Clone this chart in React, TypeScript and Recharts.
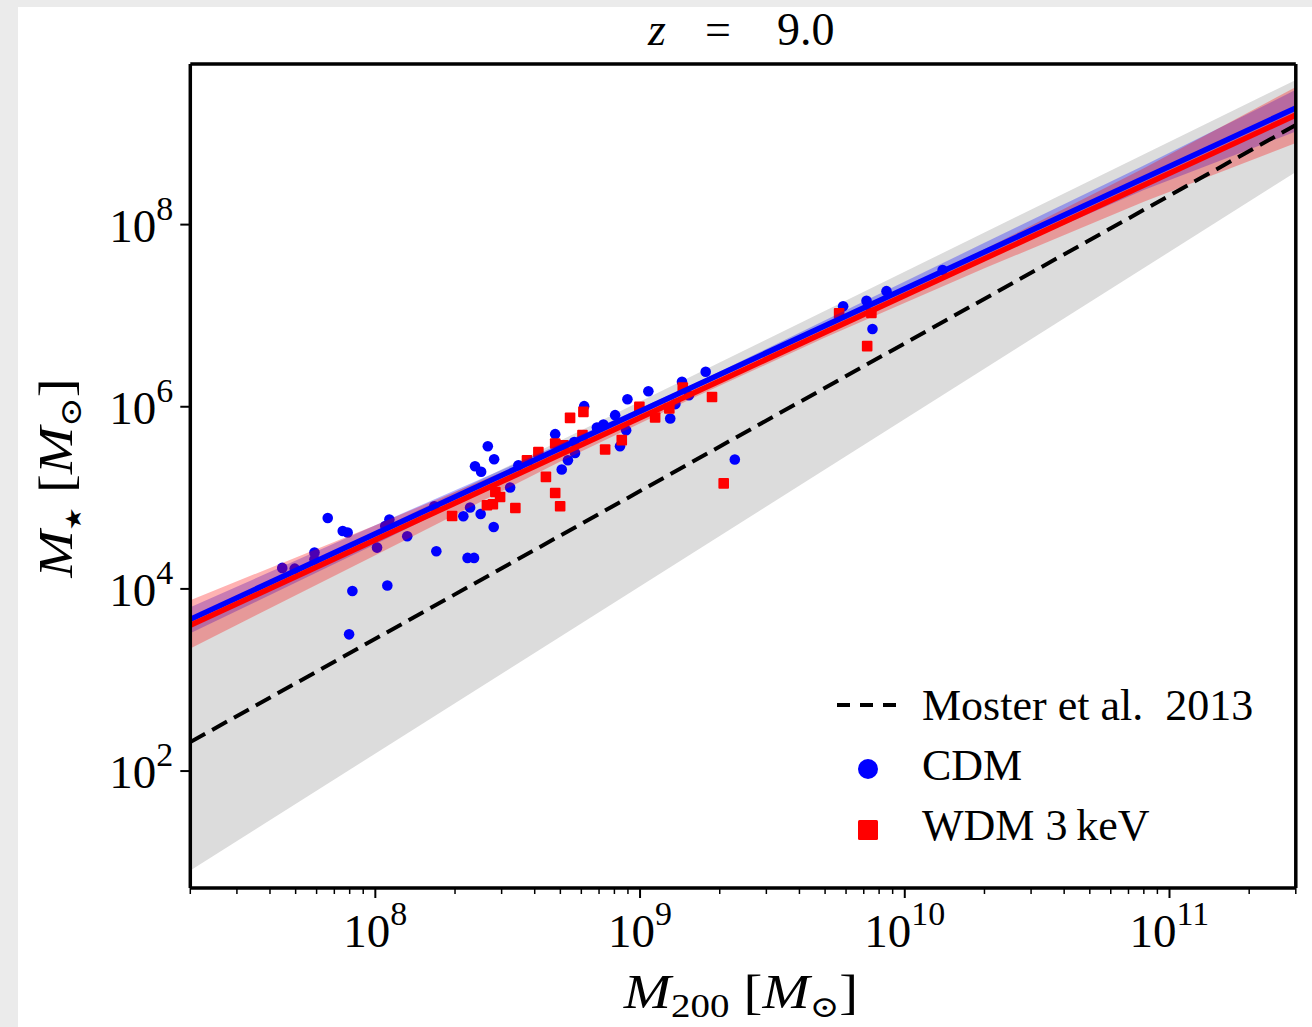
import React from 'react';
import { ComposedChart, Area, Line, Scatter, XAxis, YAxis, Legend } from 'recharts';

// CDM haloes: M200 [Msun] and stellar mass [Msun]
const cdmHalo = [
  4.45e7, 4.96e7, 5.89e7, 5.89e7, 6.61e7, 7.53e7, 7.86e7, 8.19e7, 7.96e7, 1.015e8,
  1.11e8, 1.09e8, 1.13e8, 1.32e8, 1.7e8, 1.67e8, 2.23e8, 2.36e8, 2.15e8, 2.28e8,
  2.5e8, 2.8e8, 2.66e8, 2.38e8, 2.51e8, 2.81e8, 3.23e8, 3.47e8, 4.78e8, 5.06e8,
  5.34e8, 5.68e8, 5.64e8, 6.15e8, 6.87e8, 7.27e8, 8.05e8, 8.96e8, 8.86e8, 8.4e8,
  1.075e9, 1.3e9, 1.36e9, 1.44e9, 1.53e9, 1.77e9, 2.28e9, 5.85e9, 7.17e9, 8.53e9,
  7.55e9, 1.39e10,
];
const cdmStar = [
  1.7e4, 1.67e4, 2.51e4, 2.11e4, 6.01e4, 4.33e4, 4.16e4, 9.48e3, 3.17e3, 2.84e4,
  1.09e4, 4.91e4, 5.78e4, 3.78e4, 2.59e4, 8.09e4, 2.19e4, 2.19e4, 6.28e4, 7.82e4,
  6.65e4, 4.79e4, 3.69e5, 2.22e5, 1.93e5, 2.65e5, 1.3e5, 2.28e5, 5.0e5, 2.05e5,
  2.59e5, 3.11e5, 4.11e5, 1.016e6, 5.93e5, 6.38e5, 8.09e5, 1.21e6, 5.53e5, 3.69e5,
  1.48e6, 7.44e5, 1.07e6, 1.88e6, 1.34e6, 2.42e6, 2.64e5, 1.27e7, 1.46e7, 1.86e7,
  7.13e6, 3.17e7,
];

// WDM 3 keV haloes
const wdmHalo = [
  1.95e8, 2.64e8, 2.78e8, 2.96e8, 2.84e8, 3.38e8, 3.74e8, 4.13e8, 4.41e8, 4.78e8,
  4.99e8, 4.78e8, 5.14e8, 5.44e8, 6.11e8, 6.06e8, 7.38e8, 8.53e8, 9.94e8, 1.14e9,
  1.29e9, 1.45e9, 1.87e9, 2.07e9, 5.65e9, 7.48e9, 7.21e9,
];
const wdmStar = [
  6.32e4, 8.29e4, 8.51e4, 1.02e5, 1.16e5, 7.74e4, 2.59e5, 3.19e5, 1.7e5, 1.13e5,
  8.09e4, 3.95e5, 3.78e5, 7.55e5, 8.79e5, 4.88e5, 3.4e5, 4.3e5, 9.98e5, 7.63e5,
  9.58e5, 1.63e6, 1.28e6, 1.44e5, 1.06e7, 1.07e7, 4.63e6,
];

// straight relations, read at the two edges of the plot
const edgeMass = [2e7, 3e11];
const cdmFit = [4634, 1.91e9];
const wdmFit = [3981, 1.6e9];
const mosterFit = [208, 1.24e9];
const mosterLow = [8.1, 3.78e8];
const mosterHigh = [4335, 3.88e9];

// fit uncertainty bands
const bandMass = [2e7, 1e8, 5e8, 1.6e9, 5e9, 2e10, 8e10, 3e11];
const cdmLow = [3251, 30903, 3.16e5, 1.55e6, 7.08e6, 4.17e7, 2.4e8, 1.05e9];
const cdmHigh = [6281, 50119, 3.89e5, 1.78e6, 8.91e6, 6.31e7, 4.47e8, 3.02e9];
const wdmLow = [2223, 23442, 2.51e5, 1.26e6, 5.75e6, 3.31e7, 1.78e8, 7.89e8];
const wdmHigh = [7499, 50119, 3.55e5, 1.58e6, 7.59e6, 5.37e7, 4.17e8, 3.25e9];

const xMajor = [1e8, 1e9, 1e10, 1e11];
const xMinor = [
  2e7, 3e7, 4e7, 5e7, 6e7, 7e7, 8e7, 9e7,
  2e8, 3e8, 4e8, 5e8, 6e8, 7e8, 8e8, 9e8,
  2e9, 3e9, 4e9, 5e9, 6e9, 7e9, 8e9, 9e9,
  2e10, 3e10, 4e10, 5e10, 6e10, 7e10, 8e10, 9e10,
  2e11, 3e11,
];
const yMajor = [1e2, 1e4, 1e6, 1e8];

const xDomain = [2e7, 3e11];
const yDomain = [5.2, 5.8e9];

const serif = "'Liberation Serif', 'DejaVu Serif', 'DejaVu Sans', serif";

const cdmPoints = cdmHalo.map((m, i) => ({ x: m, y: cdmStar[i] }));
const wdmPoints = wdmHalo.map((m, i) => ({ x: m, y: wdmStar[i] }));
const edgeRows = (vals: number[]) => edgeMass.map((m, i) => ({ x: m, y: vals[i] }));
const mosterBand = edgeMass.map((m, i) => ({ x: m, band: [mosterLow[i], mosterHigh[i]] }));
const cdmBand = bandMass.map((m, i) => ({ x: m, band: [cdmLow[i], cdmHigh[i]] }));
const wdmBand = bandMass.map((m, i) => ({ x: m, band: [wdmLow[i], wdmHigh[i]] }));
const xTicks = [...xMajor, ...xMinor];

const exponent = (v: number) => Math.round(Math.log10(v));

// bottom ticks: draws its own tick mark, long for decades, short for the rest
const XTick = ({ x, y, payload }: any) => {
  const isMajor = xMajor.includes(payload.value);
  return (
    <g>
      <line x1={x} y1={y} x2={x} y2={y + (isMajor ? 10 : 6)} stroke="#000" strokeWidth={isMajor ? 2 : 1.5} />
      {isMajor && (
        <text x={x} y={y + 59} textAnchor="middle" fontFamily={serif} fontSize={47} fill="#000">
          10<tspan dy={-22} fontSize={34}>{exponent(payload.value)}</tspan>
        </text>
      )}
    </g>
  );
};

const YTick = ({ x, y, payload }: any) => (
  <text x={x - 5} y={y + 17} textAnchor="end" fontFamily={serif} fontSize={47} fill="#000">
    10<tspan dy={-22} fontSize={34}>{exponent(payload.value)}</tspan>
  </text>
);

const Dot = (p: any) => <circle cx={p.cx} cy={p.cy} r={5.3} fill="#0000ff" />;
const Square = (p: any) => <rect x={p.cx - 5.3} y={p.cy - 5.3} width={10.6} height={10.6} rx={1} fill="#ff0000" />;

const renderLegend = () => (
  <svg width={460} height={190} style={{ display: 'block', overflow: 'visible' }}>
    <line x1={17} y1={25} x2={78} y2={25} stroke="#000" strokeWidth={4} strokeDasharray="13 10" />
    <circle cx={48} cy={89} r={10} fill="#0000ff" />
    <rect x={38} y={140} width={20} height={20} rx={1.5} fill="#ff0000" />
    <g fontFamily={serif} fontSize={44} fill="#000">
      <text x={102} y={40}>{'Moster et al.\u00a0\u00a02013'}</text>
      <text x={102} y={100}>CDM</text>
      <text x={102} y={160}>{'WDM 3\u2009keV'}</text>
    </g>
  </svg>
);

const frame = { stroke: '#000', strokeWidth: 3.5 };
const major = { stroke: '#000', strokeWidth: 2 };

export default function App() {
  return (
    <div style={{ position: 'absolute', left: 0, top: 0, width: 1312, height: 1027, background: '#ebebeb', overflow: 'hidden' }}>
      <div style={{ position: 'absolute', left: 18, top: 7, width: 1294, height: 1020, background: '#fff' }} />
      <div style={{ position: 'absolute', left: 0, top: 0 }}>
        <ComposedChart width={1312} height={1027} margin={{ top: 63, right: 15.2, bottom: 138, left: 189.3 }}>
          <XAxis dataKey="x" type="number" scale="log" domain={xDomain} allowDataOverflow
            ticks={xTicks} interval={0} height={1} tickSize={0} tickMargin={0}
            axisLine={frame} tickLine={false} tick={<XTick />} />
          <XAxis xAxisId="top" orientation="top" dataKey="x" type="number" scale="log" domain={xDomain} allowDataOverflow
            ticks={xMajor} interval={0} height={1} axisLine={frame} tickLine={false} tick={false} />
          <YAxis type="number" scale="log" domain={yDomain} allowDataOverflow
            ticks={yMajor} interval={0} width={1} tickSize={10} tickMargin={2}
            axisLine={frame} tickLine={major} tick={<YTick />} />
          <YAxis yAxisId="right" orientation="right" type="number" scale="log" domain={yDomain} allowDataOverflow
            ticks={yMajor} interval={0} width={1} axisLine={frame} tickLine={false} tick={false} />

          <Area data={mosterBand} dataKey="band" type="linear" stroke="none" fill="#dcdcdc" fillOpacity={1}
            isAnimationActive={false} zIndex={100} />
          <Scatter data={cdmPoints} dataKey="y" shape={Dot} isAnimationActive={false} zIndex={110} />
          <Scatter data={wdmPoints} dataKey="y" shape={Square} isAnimationActive={false} zIndex={111} />
          <Area data={cdmBand} dataKey="band" type="linear" stroke="none" fill="#0000ff" fillOpacity={0.3}
            isAnimationActive={false} zIndex={120} />
          <Area data={wdmBand} dataKey="band" type="linear" stroke="none" fill="#ff0000" fillOpacity={0.3}
            isAnimationActive={false} zIndex={130} />
          <Line data={edgeRows(mosterFit)} dataKey="y" type="linear" stroke="#000" strokeWidth={4}
            strokeDasharray="17 8" dot={false} isAnimationActive={false} zIndex={140} />
          <Line data={edgeRows(cdmFit)} dataKey="y" type="linear" stroke="#0000ff" strokeWidth={5.5}
            dot={false} isAnimationActive={false} zIndex={150} />
          <Line data={edgeRows(wdmFit)} dataKey="y" type="linear" stroke="#ff0000" strokeWidth={5.5}
            dot={false} isAnimationActive={false} zIndex={160} />

          <Legend layout="vertical" align="center" verticalAlign="middle" content={renderLegend}
            wrapperStyle={{ position: 'absolute', left: 820, top: 680, width: 460, height: 190 }} />
        </ComposedChart>
      </div>
      <svg width={1312} height={1027} style={{ position: 'absolute', left: 0, top: 0, pointerEvents: 'none' }}>
        <g fontFamily={serif} fill="#000">
          <text y={45} fontSize={46}>
            <tspan x={648} fontStyle="italic">z</tspan>
            <tspan x={705}>=</tspan>
            <tspan x={777}>9.0</tspan>
          </text>
          <g transform="translate(741 1008) scale(1.18 1)">
            <text x={0} y={0} textAnchor="middle" fontSize={48}>
              <tspan fontStyle="italic">M</tspan>
              <tspan fontSize={33} dy={9}>200</tspan>
              <tspan dy={-9}>{'\u00a0['}</tspan>
              <tspan fontStyle="italic">M</tspan>
              <tspan fontSize={30} dy={9}>{'\u2299'}</tspan>
              <tspan dy={-9}>]</tspan>
            </text>
          </g>
          <g transform="translate(72 478) rotate(-90) scale(1.18 1)">
            <text x={0} y={0} textAnchor="middle" fontSize={48}>
              <tspan fontStyle="italic">M</tspan>
              <tspan fontFamily="'DejaVu Sans', sans-serif" fontSize={22} dy={9}>{'\u2605'}</tspan>
              <tspan dy={-9}>{'\u00a0['}</tspan>
              <tspan fontStyle="italic">M</tspan>
              <tspan fontSize={30} dy={9}>{'\u2299'}</tspan>
              <tspan dy={-9}>]</tspan>
            </text>
          </g>
        </g>
      </svg>
    </div>
  );
}
